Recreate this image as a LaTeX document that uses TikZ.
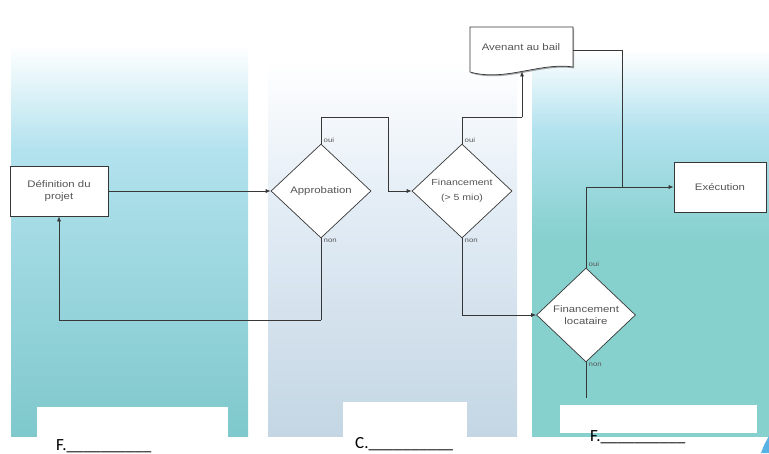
\documentclass[tikz,border=0pt]{standalone}
\usepackage{fontspec}
\setmainfont{Liberation Sans}
\newfontfamily\diagfont[FakeStretch=1.2]{Liberation Sans}
\newfontfamily\carl{Carlito}
\usetikzlibrary{shapes.geometric,arrows.meta,shadows}
\definecolor{tealL}{RGB}{126,200,204}
\definecolor{tealR}{RGB}{134,208,206}
\definecolor{cyanL}{RGB}{178,226,238}
\definecolor{greyM}{RGB}{226,236,245}
\definecolor{greyB}{RGB}{196,214,228}
\definecolor{lineC}{RGB}{55,55,55}
\definecolor{txtC}{RGB}{85,85,85}
\definecolor{blueF}{RGB}{88,178,228}
\tikzset{
  box/.style={draw=lineC, fill=white, line width=0.7pt, inner sep=2pt, align=center,
    text=txtC, font=\diagfont\fontsize{9.5}{11.5}\selectfont,
    drop shadow={shadow xshift=1.2pt, shadow yshift=-1.4pt, opacity=0.5, fill=black!70}},
  dia/.style={diamond, draw=lineC, fill=white, line width=0.7pt, inner sep=0pt,
    minimum width=100pt, minimum height=94pt, align=center, text=txtC,
    font=\diagfont\fontsize{9.5}{11.5}\selectfont},
  conn/.style={draw=lineC, line width=0.7pt},
  arr/.style={conn, -{Latex[length=5pt,width=4pt]}},
  tiny/.style={text=txtC, font=\diagfont\fontsize{6.5}{7}\selectfont, inner sep=0.5pt},
  blank/.style={text=black, font=\carl\fontsize{17}{19}\selectfont, inner sep=0pt}
}
\begin{document}
\begin{tikzpicture}[x=1pt,y=-1pt]
\useasboundingbox (0,0) rectangle (769,453);
\fill[white] (0,0) rectangle (769,453);
% left column
\shade[top color=white, bottom color=cyanL] (11,45) rectangle (248,150);
\shade[top color=cyanL, bottom color=tealL] (11,150) rectangle (248,437);
% middle column
\shade[top color=white, bottom color=greyM] (268,60) rectangle (517,210);
\shade[top color=greyM, bottom color=greyB] (268,210) rectangle (517,437);
% right column
\shade[top color=white, bottom color=cyanL] (532,50) rectangle (769,130);
\shade[top color=cyanL, bottom color=tealR] (532,130) rectangle (769,240);
\fill[tealR] (532,240) rectangle (769,437);
% answer boxes
\fill[white] (37,407) rectangle (228,440);
\fill[white] (343,402) rectangle (467,440);
\fill[white] (560,405) rectangle (757,433);
\fill[white] (0,437) rectangle (769,453);
\fill[blueF] (761,453) .. controls (764,445) .. (769,436) -- (769,453) -- cycle;

% nodes
\node[box, minimum width=98pt, minimum height=50pt] (def) at (59,191) {Définition du\\projet};
\node[dia] (appr) at (321,191) {Approbation};
\node[dia, font=\diagfont\fontsize{8.8}{10}\selectfont] (fin) at (462,191) {Financement\\[5pt](> 5 mio)};
\node[dia, minimum width=99pt] (loc) at (586,315) {Financement\\locataire};
\node[box, minimum width=92pt, minimum height=50pt] (exe) at (720,187) {Exécution};
% document shape
\draw[draw=lineC, fill=white, line width=0.7pt,
  drop shadow={shadow xshift=1.2pt, shadow yshift=-1.4pt, opacity=0.5, fill=black!70}]
  (470,27) -- (573,27) -- (573,67) .. controls (540,62) and (505,82) .. (470,72) -- cycle;
\node[text=txtC, font=\diagfont\fontsize{9.5}{11.5}\selectfont] (av) at (521,47) {Avenant au bail};
\coordinate (avb) at (522,71.4);
\coordinate (avr) at (573,50);

% waypoints
\coordinate (j1) at (388,117);
\coordinate (j2) at (522,117);
\coordinate (j3) at (321,320);
\coordinate (jn) at (622,187);
\coordinate (endl) at (586,398);

% connectors
\draw[arr] (def.east) -- (appr.west);
\draw[conn] (appr.north) |- (j1);
\draw[arr] (j1) |- (fin.west);
\draw[conn] (appr.south) -- (j3);
\draw[arr] (j3) -| (def.south);
\draw[conn] (fin.north) |- (j2);
\draw[arr] (j2) -- (avb);
\draw[arr] (fin.south) |- (loc.west);
\draw[arr] (loc.north) |- (exe.west);
\draw[conn] (avr) -| (jn);
\draw[conn] (loc.south) -- (endl);

% labels
\node[tiny, anchor=south west] (o1) at ([xshift=2pt]appr.north) {oui};
\node[tiny, anchor=north west] (n1) at ([xshift=2pt]appr.south) {non};
\node[tiny, anchor=south west] (o2) at ([xshift=2pt]fin.north) {oui};
\node[tiny, anchor=north west] (n2) at ([xshift=2pt]fin.south) {non};
\node[tiny, anchor=south west] (o3) at ([xshift=2pt]loc.north) {oui};
\node[tiny, anchor=north west] (n3) at ([xshift=2pt]loc.south) {non};

% answer blanks
\node[blank, anchor=base west] (b1) at (56,450) {F.\_\_\_\_\_\_\_\_\_\_};
\node[blank, anchor=base west] (b2) at (355,448) {C.\_\_\_\_\_\_\_\_\_\_};
\node[blank, anchor=base west] (b3) at (590,441) {F.\_\_\_\_\_\_\_\_\_\_};
\end{tikzpicture}
\end{document}
